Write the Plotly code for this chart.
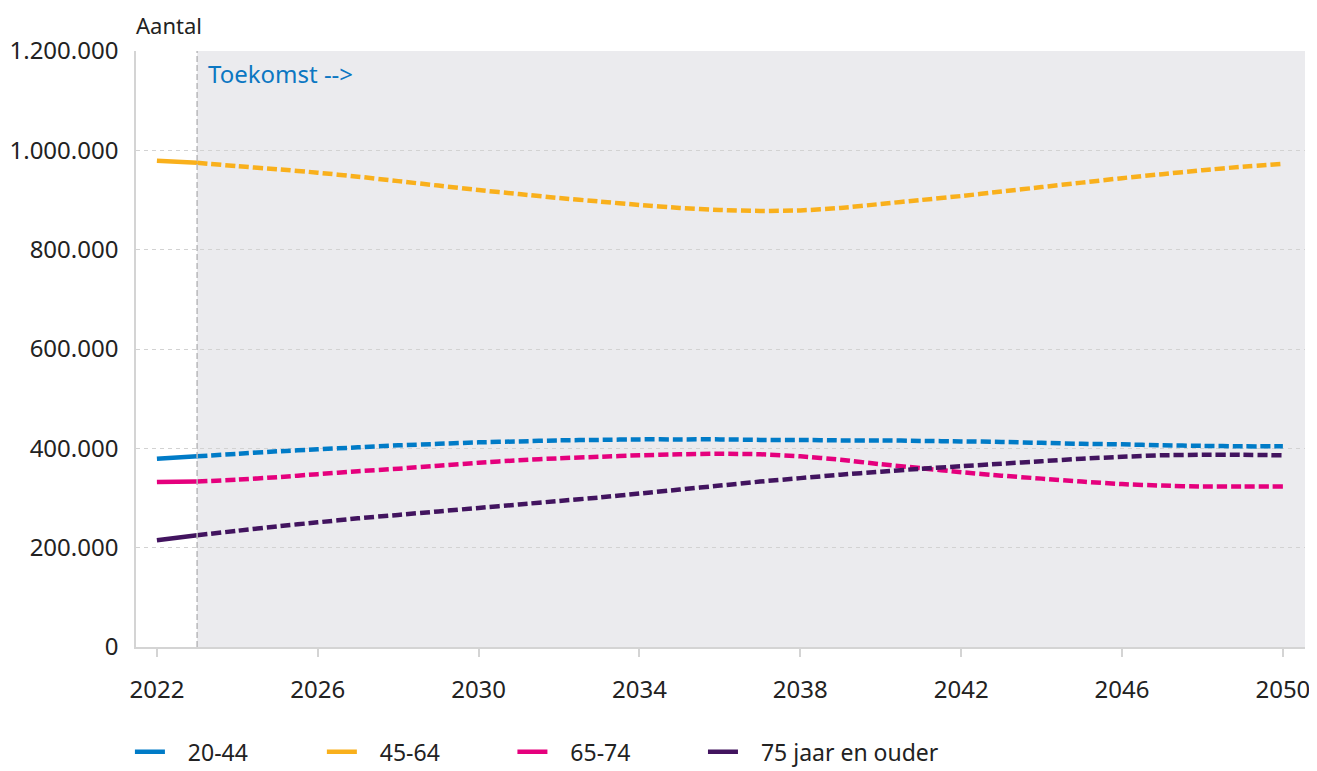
import plotly.graph_objects as go

years = list(range(2022, 2051))
leeftijd_20_44 = [379, 384, 389, 394, 398, 402, 406, 409, 412, 414, 416, 417, 418, 418, 418, 417, 417, 416, 416, 415, 414, 413, 411, 409, 408, 406, 405, 404, 404]
leeftijd_45_64 = [979, 975, 968, 962, 955, 947, 938, 929, 920, 912, 904, 897, 890, 884, 880, 878, 879, 884, 892, 900, 908, 917, 926, 935, 944, 952, 960, 967, 973]
leeftijd_65_74 = [332, 333, 337, 342, 348, 354, 359, 365, 371, 376, 380, 383, 386, 388, 389, 388, 384, 377, 368, 360, 352, 345, 339, 333, 328, 325, 323, 323, 323]
leeftijd_75plus = [215, 225, 234, 243, 251, 259, 266, 273, 280, 287, 294, 301, 309, 317, 325, 333, 340, 347, 353, 359, 364, 369, 374, 379, 383, 386, 387, 387, 386]

series_names = ["20-44", "45-64", "65-74", "75 jaar en ouder"]
series_values = [leeftijd_20_44, leeftijd_45_64, leeftijd_65_74, leeftijd_75plus]
series_colors = ["#007bc7", "#f9b01c", "#e5007d", "#42145f"]

tick_years = [2022, 2026, 2030, 2034, 2038, 2042, 2046, 2050]
y_ticks = [0, 200000, 400000, 600000, 800000, 1000000, 1200000]
y_ticktext = ["0", "200.000", "400.000", "600.000", "800.000", "1.000.000", "1.200.000"]

FONT = "Noto Sans"
TXT = "#222222"
NB = "\u00a0\u00a0\u00a0"
fig = go.Figure()

legend_ids = ["legend", "legend2", "legend3", "legend4"]
for name, vals, col, lg in zip(series_names, series_values, series_colors, legend_ids):
    v = [x * 1000 for x in vals]
    fig.add_trace(go.Scatter(x=years[:2], y=v[:2], mode="lines", name=NB + name,
                             line=dict(color=col, width=4.5), legend=lg, showlegend=True))
    fig.add_trace(go.Scatter(x=years[1:], y=v[1:], mode="lines", name=name,
                             line=dict(color=col, width=4.5, dash="10px,4px", shape="spline", smoothing=0.6),
                             legend=lg, showlegend=False))

xr = [2021.48, 2050.55]
fig.add_shape(type="rect", xref="x", yref="paper", x0=2023, x1=xr[1], y0=0, y1=1,
              fillcolor="#ebebee", line=dict(width=0), layer="below")
fig.add_shape(type="line", xref="x", yref="paper", x0=2023, x1=2023, y0=0, y1=1,
              line=dict(color="#b8b8bb", width=1.5, dash="6px,3px"), layer="above")

fig.add_annotation(text="Aantal", xref="paper", yref="paper", x=-0.0017, y=1.043,
                   xanchor="left", yanchor="middle", showarrow=False,
                   font=dict(family=FONT, size=22, color=TXT))
fig.add_annotation(text="Toekomst -->", xref="x", yref="paper", x=2023, y=0.963, xshift=9,
                   xanchor="left", yanchor="middle", showarrow=False,
                   font=dict(family=FONT, size=24, color="#0c77c2"))

legend_x = [-0.0052, 0.159, 0.322, 0.485]
legend_common = dict(orientation="h", yanchor="middle", y=-0.176, xanchor="left",
                     font=dict(family=FONT, size=23, color=TXT), bgcolor="rgba(0,0,0,0)",
                     itemwidth=30)
layout_legends = {}
for lg, lx in zip(legend_ids, legend_x):
    layout_legends[lg] = dict(x=lx, **legend_common)

fig.update_layout(
    width=1309, height=763,
    margin=dict(l=128, r=12, t=43, b=124, autoexpand=False),
    paper_bgcolor="white", plot_bgcolor="white",
    font=dict(family=FONT, size=24, color=TXT),
    xaxis=dict(range=xr, tickmode="array", tickvals=tick_years, ticktext=[str(t) for t in tick_years],
               showgrid=False, zeroline=False, showline=True, linecolor="#d4d4d4", linewidth=1.5,
               ticks="outside", ticklen=8, tickcolor="#d4d4d4", tickwidth=1.5,
               tickfont=dict(family=FONT, size=24, color=TXT), ticklabelstandoff=12,
               ticklabeloverflow="allow"),
    yaxis=dict(range=[0, 1200000], tickmode="array", tickvals=y_ticks, ticktext=y_ticktext,
               showgrid=True, gridcolor="#d2d2d2", gridwidth=1, griddash="4px,4px",
               zeroline=False, showline=True, linecolor="#d4d4d4", linewidth=1.5,
               ticks="", tickfont=dict(family=FONT, size=24, color=TXT), ticklabelstandoff=11),
    hovermode=False,
    **layout_legends,
)

fig.write_html("out.html")
